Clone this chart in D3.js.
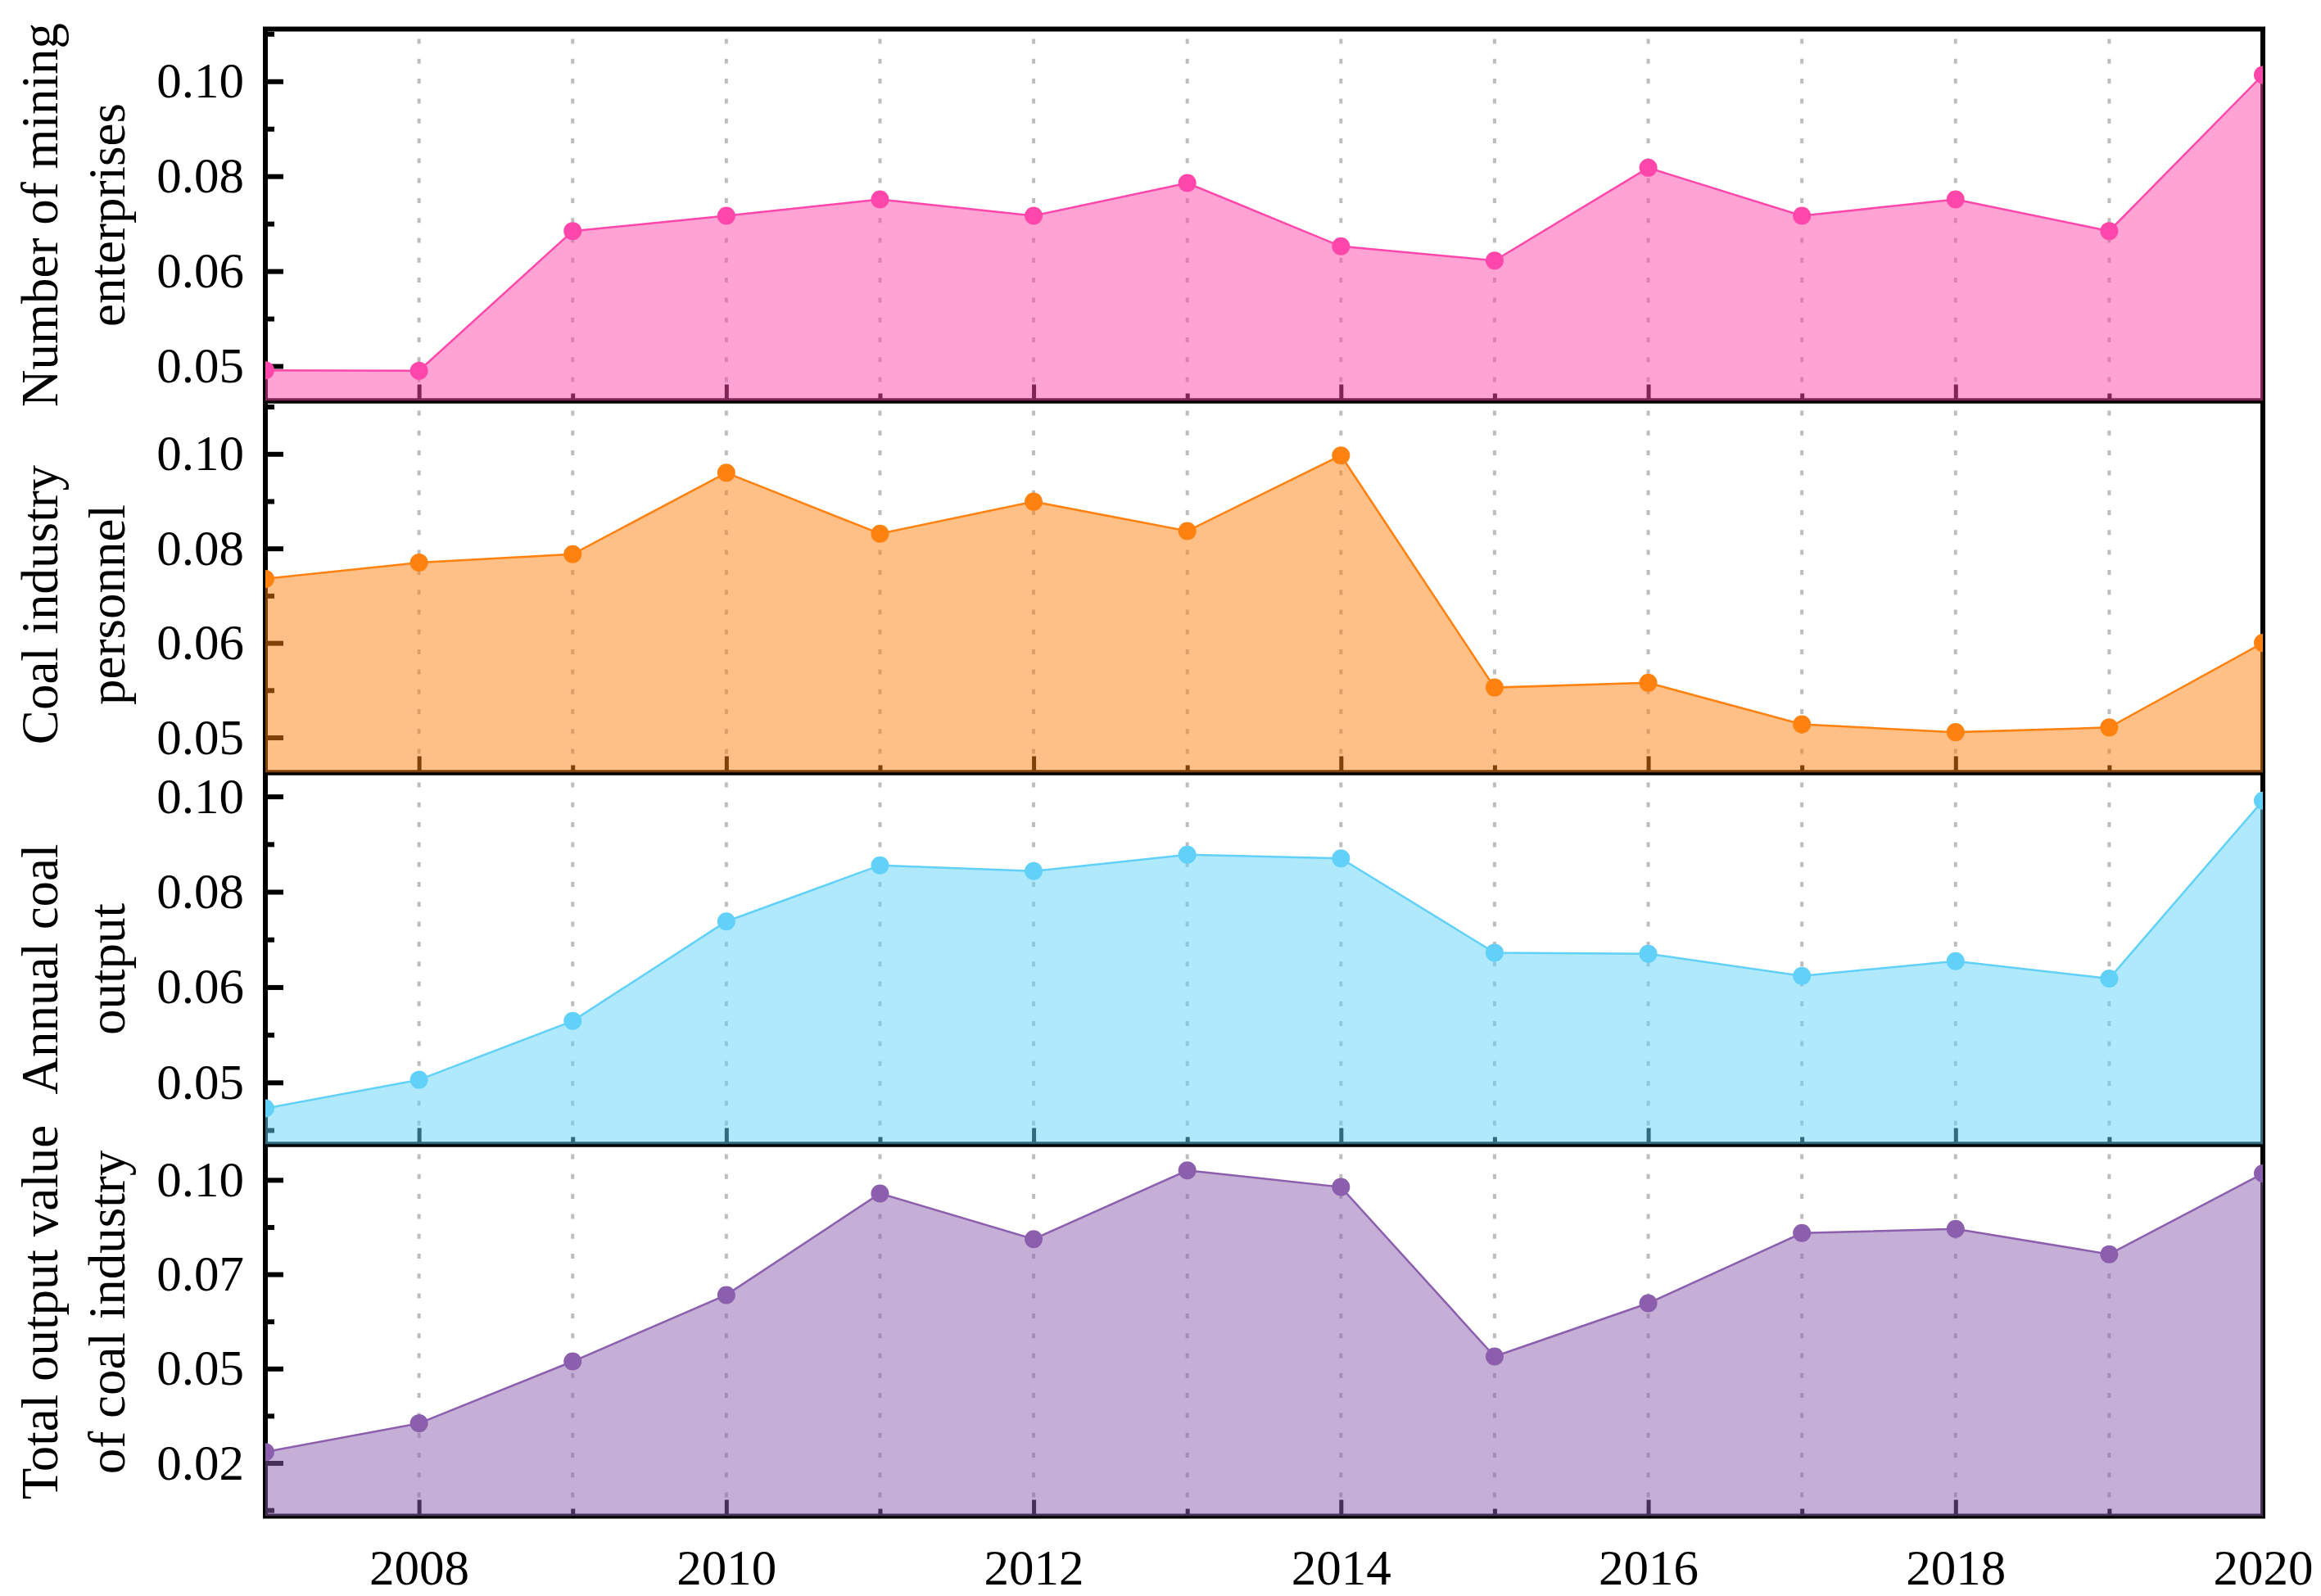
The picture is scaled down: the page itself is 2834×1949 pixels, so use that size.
<!DOCTYPE html>
<html>
<head>
<meta charset="utf-8">
<script src="https://cdn.jsdelivr.net/npm/d3@7"></script>
<style>
  html, body { margin: 0; padding: 0; background: #ffffff; }
  svg { display: block; }
</style>
</head>
<body>
<script>
// ---------------- DATA ----------------
const years = [2007, 2008, 2009, 2010, 2011, 2012, 2013, 2014, 2015, 2016, 2017, 2018, 2019, 2020];

const miningEnterprises = [0.0452, 0.0451, 0.0716, 0.0745, 0.0776, 0.0745, 0.0807, 0.0687, 0.0660, 0.0836, 0.0745, 0.0776, 0.0716, 0.1012];
const coalPersonnel     = [0.0762, 0.0793, 0.0809, 0.0964, 0.0848, 0.0909, 0.0853, 0.0997, 0.0555, 0.0564, 0.0485, 0.0470, 0.0479, 0.0640];
const annualCoalOutput  = [0.0411, 0.0465, 0.0576, 0.0764, 0.0870, 0.0859, 0.0890, 0.0883, 0.0705, 0.0703, 0.0661, 0.0689, 0.0656, 0.0992];
const totalOutputValue  = [0.0279, 0.0355, 0.0519, 0.0695, 0.0964, 0.0843, 0.1025, 0.0981, 0.0532, 0.0673, 0.0859, 0.0870, 0.0803, 0.1017];

const seriesTitles = [
  ["Number of mining", "enterprises"],
  ["Coal industry", "personnel"],
  ["Annual coal", "output"],
  ["Total output value", "of coal industry"]
];

// y tick values and their printed labels
const tickValuesA = [0.046, 0.064, 0.082, 0.100];
const tickLabelsA = ["0.05", "0.06", "0.08", "0.10"];
const tickValuesB = [0.025, 0.050, 0.075, 0.100];
const tickLabelsB = ["0.02", "0.05", "0.07", "0.10"];

const yDomains = [[0.0394, 0.1099], [0.0393, 0.1101], [0.0343, 0.1045], [0.0109, 0.1094]];

const xMajorTicks = [2008, 2010, 2012, 2014, 2016, 2018, 2020];
const xMinorTicks = [2007, 2009, 2011, 2013, 2015, 2017, 2019];

// ---------------- STYLE / LAYOUT ----------------
const colors = ["#FF47AB", "#FF810F", "#61D1F9", "#8B5FAD"];
const titleOffsets = [0, 22, 13, -22];
const W = 2834, H = 1949;
const plotLeft = 324, plotRight = 2763, plotTop = 35.5, panelH = 454;
const FONT = "'Liberation Serif', 'Times New Roman', Times, serif";

const panels = [
  { values: miningEnterprises, domain: yDomains[0], ticks: tickValuesA, labels: tickLabelsA, step: 0.018 },
  { values: coalPersonnel,     domain: yDomains[1], ticks: tickValuesA, labels: tickLabelsA, step: 0.018 },
  { values: annualCoalOutput,  domain: yDomains[2], ticks: tickValuesA, labels: tickLabelsA, step: 0.018 },
  { values: totalOutputValue,  domain: yDomains[3], ticks: tickValuesB, labels: tickLabelsB, step: 0.025 }
];
panels.forEach((p, i) => { p.title = seriesTitles[i]; p.color = colors[i]; p.titleOffset = titleOffsets[i]; });

const svg = d3.select("body").append("svg")
  .attr("width", W).attr("height", H)
  .attr("viewBox", `0 0 ${W} ${H}`);

svg.append("rect").attr("width", W).attr("height", H).attr("fill", "#ffffff");

const x = d3.scaleLinear().domain([2007, 2020]).range([plotLeft, plotRight]);

const defs = svg.append("defs");
const gGrid = svg.append("g");
const gFrame = svg.append("g");
const gData = svg.append("g");
const gText = svg.append("g");

panels.forEach((p, i) => {
  const y0 = plotTop + i * panelH;
  const y1 = y0 + panelH;
  const y = d3.scaleLinear().domain(p.domain).range([y1, y0]);

  // clip
  defs.append("clipPath").attr("id", "clip" + i)
    .append("rect").attr("x", plotLeft).attr("y", y0).attr("width", plotRight - plotLeft).attr("height", panelH);

  // gridlines (vertical dotted)
  gGrid.append("g").selectAll("line")
    .data(years.filter(v => v > 2007 && v < 2020))
    .join("line")
    .attr("x1", d => x(d)).attr("x2", d => x(d))
    .attr("y1", y0).attr("y2", y1)
    .attr("stroke", "#bdbdbd")
    .attr("stroke-width", 4)
    .attr("stroke-dasharray", "6 18.3")
    .attr("stroke-dashoffset", -12);

  // frame
  gFrame.append("rect")
    .attr("x", plotLeft).attr("y", y0).attr("width", plotRight - plotLeft).attr("height", panelH)
    .attr("fill", "none").attr("stroke", "#000").attr("stroke-width", 6);

  // left major ticks (inward)
  const yMajor = gFrame.append("g").attr("transform", `translate(${plotLeft},0)`)
    .call(d3.axisRight(y).tickValues(p.ticks).tickSize(22).tickFormat(""));
  yMajor.select(".domain").remove();
  yMajor.selectAll("line").attr("stroke", "#000").attr("stroke-width", 6);

  // left minor ticks
  const minors = [];
  for (let k = -1; k < p.ticks.length; k++) {
    const v = p.ticks[0] + (k + 0.5) * p.step;
    if (v > p.domain[0] && v < p.domain[1]) minors.push(v);
  }
  const yMinor = gFrame.append("g").attr("transform", `translate(${plotLeft},0)`)
    .call(d3.axisRight(y).tickValues(minors).tickSize(11).tickFormat(""));
  yMinor.select(".domain").remove();
  yMinor.selectAll("line").attr("stroke", "#000").attr("stroke-width", 6);

  // y tick labels
  const yLab = gText.append("g").attr("transform", `translate(${plotLeft},0)`)
    .call(d3.axisLeft(y).tickValues(p.ticks).tickSize(0).tickPadding(26)
      .tickFormat((d, j) => p.labels[j]));
  yLab.select(".domain").remove();
  yLab.selectAll("text").attr("font-family", FONT).attr("font-size", 61).attr("fill", "#000");

  // bottom ticks (inward)
  const xMaj = gFrame.append("g").attr("transform", `translate(0,${y1})`)
    .call(d3.axisTop(x).tickValues(xMajorTicks).tickSize(20).tickFormat(""));
  xMaj.select(".domain").remove();
  xMaj.selectAll("line").attr("stroke", "#000").attr("stroke-width", 5);
  const xMin = gFrame.append("g").attr("transform", `translate(0,${y1})`)
    .call(d3.axisTop(x).tickValues(xMinorTicks).tickSize(9).tickFormat(""));
  xMin.select(".domain").remove();
  xMin.selectAll("line").attr("stroke", "#000").attr("stroke-width", 5);

  // data
  const pts = years.map((yr, j) => ({ yr, v: p.values[j] }));
  const g = gData.append("g").attr("clip-path", `url(#clip${i})`);
  g.append("path").datum(pts)
    .attr("d", d3.area().x(d => x(d.yr)).y0(y1).y1(d => y(d.v)))
    .attr("fill", p.color).attr("fill-opacity", 0.5);
  g.append("path").datum(pts)
    .attr("d", d3.line().x(d => x(d.yr)).y(d => y(d.v)))
    .attr("fill", "none").attr("stroke", p.color).attr("stroke-width", 2.5);
  g.selectAll("circle").data(pts).join("circle")
    .attr("cx", d => x(d.yr)).attr("cy", d => y(d.v)).attr("r", 11)
    .attr("fill", p.color);

  // titles
  const cy = (y0 + y1) / 2 + p.titleOffset;
  [70, 152].forEach((bx, li) => {
    gText.append("text")
      .attr("transform", `translate(${bx},${cy}) rotate(-90)`)
      .attr("text-anchor", "middle")
      .attr("font-family", FONT).attr("font-size", 63).attr("fill", "#000")
      .text(p.title[li]);
  });

  // x labels on bottom panel
  if (i === panels.length - 1) {
    const xLab = gText.append("g").attr("transform", `translate(0,${y1})`)
      .call(d3.axisBottom(x).tickValues(xMajorTicks).tickSize(0).tickPadding(40).tickFormat(d3.format("d")));
    xLab.select(".domain").remove();
    xLab.selectAll("text").attr("font-family", FONT).attr("font-size", 61).attr("fill", "#000");
  }
});
</script>
</body>
</html>
